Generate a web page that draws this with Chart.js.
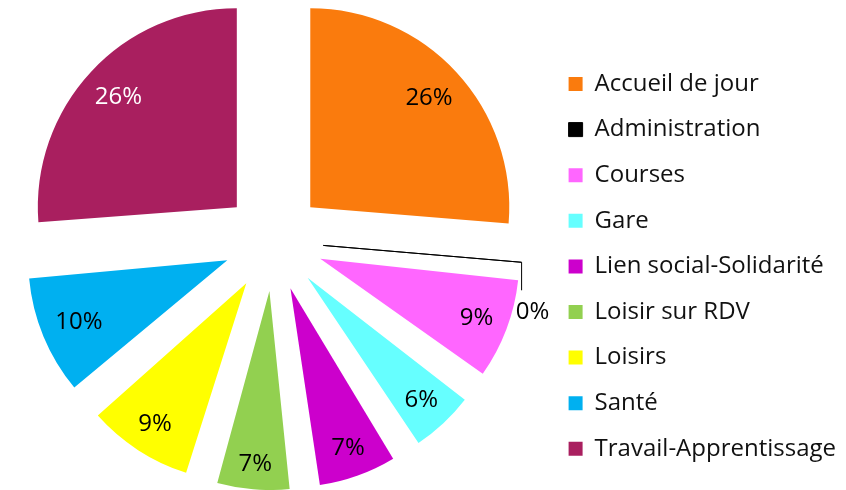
<!DOCTYPE html>
<html>
<head>
<meta charset="utf-8">
<script src="https://cdn.jsdelivr.net/npm/chart.js@4"></script>
<style>
  html, body { margin: 0; background: #fff; }
  #wrap { width: 846px; height: 490px; }
</style>
</head>
<body>
<div id="wrap"><canvas id="chart" width="846" height="490"></canvas></div>
<script>
const categories = [
  "Accueil de jour",
  "Administration",
  "Courses",
  "Gare",
  "Lien social-Solidarité",
  "Loisir sur RDV",
  "Loisirs",
  "Santé",
  "Travail-Apprentissage",
];
// share of trips, in %
const shares = [26.3, 0.1, 8.7, 5.9, 7.0, 6.6, 9.1, 10.1, 26.2];
const colors = ["#FA7B0D", "#000000", "#FF66FF", "#66FFFF", "#CC00CC", "#92D050", "#FFFF00", "#00B0F0", "#A91F5F"];
const labelColors = ["#000", "#000", "#000", "#000", "#000", "#000", "#000", "#000", "#fff"];

const EXPLODE = 50;      // px every slice is pulled away from the centre
const PIE_RADIUS = 199;
const FONT = { family: "'Open Sans', sans-serif", size: 24 };

// chart.js moves an arc by offset/4 but also grows narrow arcs by
// (offset/4)*(1 - sin(circumference)); take that back so all slices keep one radius
const sameRadius = {
  id: "sameRadius",
  beforeDatasetDraw(chart, args) {
    args.meta.data.forEach((arc) => {
      const fix = 1 - Math.sin(Math.min(Math.PI, arc.circumference));
      arc.outerRadius = PIE_RADIUS - EXPLODE * fix;
    });
  },
};

// percentage labels, inside the outer edge of each slice
const pctLabels = {
  id: "pctLabels",
  afterDatasetsDraw(chart) {
    const ctx = chart.ctx;
    const meta = chart.getDatasetMeta(0);
    const total = shares.reduce((a, b) => a + b, 0);
    ctx.save();
    ctx.font = FONT.size + "px " + FONT.family;
    ctx.textAlign = "center";
    ctx.textBaseline = "middle";
    meta.data.forEach((arc, i) => {
      const text = Math.round((shares[i] / total) * 100) + "%";
      const mid = (arc.startAngle + arc.endAngle) / 2;
      const dx = Math.cos(mid);
      const dy = Math.sin(mid);
      const ax = arc.x + dx * EXPLODE;
      const ay = arc.y + dy * EXPLODE;
      ctx.fillStyle = labelColors[i];
      if (shares[i] < 1) {
        // too thin: leader line down to a label outside
        const tx = ax + dx * PIE_RADIUS;
        const ty = ay + dy * PIE_RADIUS;
        ctx.strokeStyle = "#000";
        ctx.lineWidth = 1;
        ctx.beginPath();
        ctx.moveTo(tx, ty);
        ctx.lineTo(tx, ty + 28);
        ctx.stroke();
        ctx.fillText(text, tx + 11, ty + 50);
        return;
      }
      const w = ctx.measureText(text).width;
      const proj = Math.abs(dx) * w / 2 + Math.abs(dy) * 12;
      const d = PIE_RADIUS - 12 - proj;
      ctx.fillText(text, ax + dx * d, ay + dy * d);
    });
    ctx.restore();
  },
};

new Chart(document.getElementById("chart"), {
  type: "pie",
  data: {
    labels: categories,
    datasets: [
      {
        data: shares,
        backgroundColor: colors,
        // only the near-empty slice gets an outline, so it still shows as a line
        borderWidth: shares.map((v) => (v < 1 ? 1 : 0)),
        borderColor: colors,
        offset: EXPLODE * 4,
        radius: PIE_RADIUS,
      },
    ],
  },
  options: {
    responsive: false,
    animation: false,
    events: [],
    layout: { padding: { top: 0, right: 0, bottom: 7.6, left: -4 } },
    plugins: {
      tooltip: { enabled: false },
      legend: {
        position: "right",
        align: "end",
        labels: {
          boxWidth: 14,
          boxHeight: 14,
          padding: 21.6,
          color: "#111",
          font: FONT,
        },
      },
    },
  },
  plugins: [sameRadius, pctLabels],
});
</script>
</body>
</html>
